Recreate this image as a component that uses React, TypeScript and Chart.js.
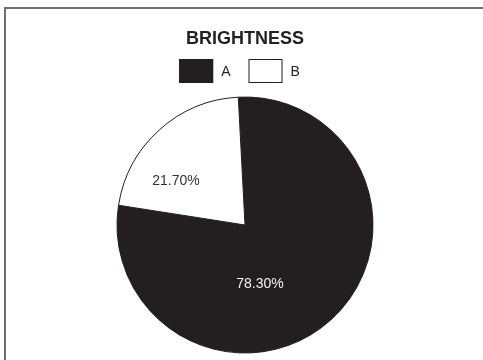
import React, { useEffect, useRef } from "react";
import { Chart, registerables } from "chart.js";

Chart.register(...registerables);

const categories = ["A", "B"];
const values = [78.3, 21.7];
const sliceColors = ["#231f20", "#ffffff"];
const labelColors = ["#f2f2f2", "#333333"];
const chartTitle = "BRIGHTNESS";

const FONT = "'Liberation Sans', Arial, Helvetica, sans-serif";

// label anchor offsets as fractions of the radius, relative to the pie centre
const labelOffsets: Array<[number, number]> = [
  [0.117, 0.461],
  [-0.539, -0.344],
];

const framePlugin = {
  id: "frame",
  beforeDraw(chart: any) {
    const ctx = chart.ctx;
    ctx.save();
    ctx.fillStyle = "#ffffff";
    ctx.fillRect(0, 0, chart.width, chart.height);
    ctx.strokeStyle = "#6e6e6e";
    ctx.lineWidth = 2;
    ctx.strokeRect(5, 8, 800, 800);
    ctx.restore();
  },
};

const legendPlugin = {
  id: "customLegend",
  afterDraw(chart: any) {
    const ctx = chart.ctx;
    const meta = chart.getDatasetMeta(0);
    const arc = meta.data[0];
    const cx = arc.x;
    const boxW = 34;
    const boxH = 24;
    const gapText = 8;
    const gapItem = 18;
    const boxTop = 59;
    ctx.save();
    ctx.font = `14px ${FONT}`;
    const widths = categories.map((c) => ctx.measureText(c).width);
    let total = 0;
    categories.forEach((_, i) => {
      total += boxW + gapText + widths[i];
      if (i < categories.length - 1) total += gapItem;
    });
    let x = cx - total / 2 - 5.5;
    categories.forEach((c, i) => {
      ctx.fillStyle = sliceColors[i];
      ctx.fillRect(x, boxTop, boxW, boxH);
      ctx.strokeStyle = "#231f20";
      ctx.lineWidth = 1;
      ctx.strokeRect(x + 0.5, boxTop + 0.5, boxW - 1, boxH - 1);
      ctx.fillStyle = "#231f20";
      ctx.textBaseline = "middle";
      ctx.textAlign = "left";
      ctx.fillText(c, x + boxW + gapText, boxTop + boxH / 2 + 1);
      x += boxW + gapText + widths[i] + gapItem;
    });
    ctx.restore();
  },
};

const sliceLabelPlugin = {
  id: "sliceLabels",
  afterDatasetsDraw(chart: any) {
    const ctx = chart.ctx;
    const meta = chart.getDatasetMeta(0);
    ctx.save();
    ctx.font = `14px ${FONT}`;
    ctx.textAlign = "center";
    ctx.textBaseline = "middle";
    meta.data.forEach((el: any, i: number) => {
      const r = el.outerRadius;
      const [fx, fy] = labelOffsets[i];
      ctx.fillStyle = labelColors[i];
      ctx.fillText(values[i].toFixed(2) + "%", el.x + fx * r, el.y + fy * r);
    });
    ctx.restore();
  },
};

export default function App() {
  const ref = useRef<HTMLCanvasElement | null>(null);

  useEffect(() => {
    if (!ref.current) return;
    const chart = new Chart(ref.current, {
      type: "pie",
      data: {
        labels: categories,
        datasets: [
          {
            data: values,
            backgroundColor: sliceColors,
            borderColor: "#231f20",
            borderWidth: 1,
          },
        ],
      },
      options: {
        responsive: false,
        animation: false,
        rotation: -3,
        layout: { padding: { left: 7, right: 0, top: 0, bottom: 6.5 } },
        plugins: {
          legend: { display: false },
          tooltip: { enabled: false },
          title: {
            display: true,
            text: chartTitle,
            color: "#231f20",
            font: { family: FONT, size: 18, weight: "bold" },
            padding: { top: 28.2, bottom: 46.7 },
          },
        },
      },
      plugins: [framePlugin, legendPlugin, sliceLabelPlugin],
    });
    return () => chart.destroy();
  }, []);

  return (
    <div style={{ position: "fixed", left: 0, top: 0, width: 483, height: 360, background: "#fff" }}>
      <canvas ref={ref} width={483} height={360} />
    </div>
  );
}
